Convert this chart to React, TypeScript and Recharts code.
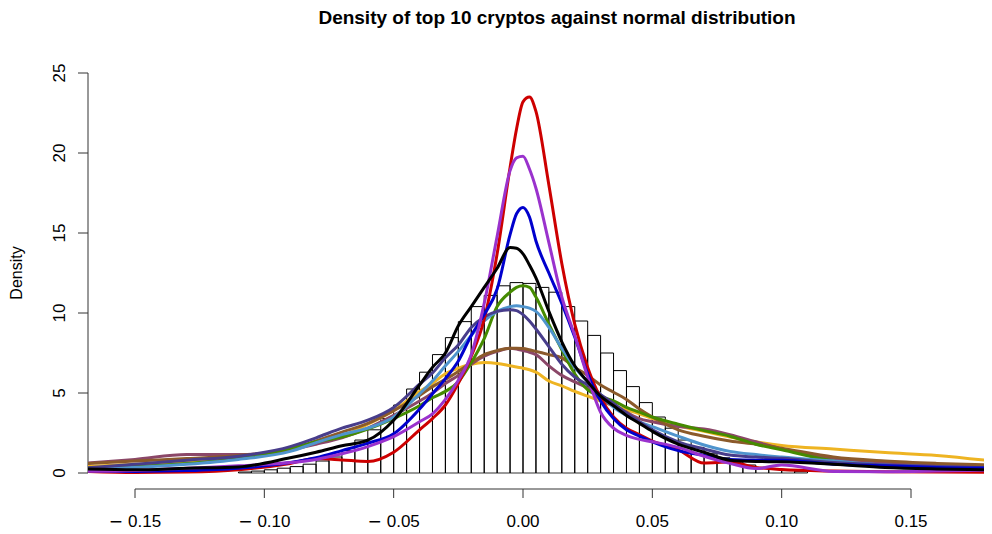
import { ComposedChart, Line, XAxis, YAxis, ReferenceLine } from "recharts";

// density curves are sampled on one shared grid of returns
const xGrid = [
  -0.17, -0.15, -0.13, -0.11, -0.09, -0.08, -0.07, -0.06, -0.05, -0.04, -0.035, -0.03, -0.025,
  -0.02, -0.015, -0.01, -0.005, -0.0025, 0, 0.0025, 0.005, 0.01, 0.015, 0.02, 0.025, 0.03, 0.035,
  0.04, 0.045, 0.05, 0.06, 0.07, 0.08, 0.09, 0.1, 0.12, 0.14, 0.16, 0.185,
];

const red = [
  0.1, 0.03, 0.06, 0.2, 0.6, 0.9, 0.82, 0.72, 1.3, 2.7, 3.4, 4.25, 5.6, 7.3, 9.6, 13.7, 19.1, 21.5,
  23.2, 23.5, 22.6, 18.0, 13.1, 9.3, 6.6, 4.7, 3.5, 2.8, 2.4, 2.0, 1.45, 0.62, 0.68, 0.35, 0.22,
  0.12, 0.08, 0.06, 0.05,
];
const purple = [
  0.1, 0.15, 0.3, 0.45, 0.65, 0.85, 1.2, 1.65, 2.27, 3.2, 3.7, 4.6, 5.8, 7.4, 10.6, 14.8, 18.9,
  19.7, 19.8, 19.0, 17.8, 14.4, 11.0, 8.6, 6.0, 3.8, 2.8, 2.35, 2.1, 1.95, 1.6, 1.05, 0.6, 0.28,
  0.5, 0.1, 0.08, 0.12, 0.2,
];
const blue = [
  0.15, 0.1, 0.15, 0.3, 0.65, 0.95, 1.4, 1.87, 2.45, 4.0, 4.95, 5.9, 7.0, 8.6, 9.9, 11.5, 14.9,
  16.2, 16.6, 16.0, 14.5, 12.5, 10.6, 8.5, 6.2, 4.5, 3.4, 2.7, 2.3, 1.95, 1.4, 1.1, 0.85, 0.8, 0.8,
  0.55, 0.45, 0.35, 0.3,
];
const black = [
  0.25, 0.2, 0.3, 0.38, 0.95, 1.3, 1.7, 2.05, 3.3, 5.5, 6.6, 7.5, 9.2, 10.4, 11.6, 12.8, 14.1,
  14.05, 13.7, 13.0, 12.2, 10.1, 8.2, 6.7, 5.7, 4.8, 4.2, 3.6, 3.1, 2.6, 1.8, 1.3, 0.8, 0.72, 0.7,
  0.55, 0.35, 0.25, 0.18,
];
const green = [
  0.3, 0.4, 0.6, 0.9, 1.55, 1.95, 2.25, 2.75, 3.4, 4.2, 4.7, 5.1, 5.7, 6.9, 8.4, 10.4, 11.3, 11.6,
  11.7, 11.6, 11.0, 9.3, 7.7, 6.2, 5.2, 4.8, 4.5, 4.1, 3.8, 3.5, 3.05, 2.65, 2.3, 1.8, 1.45, 0.75,
  0.45, 0.35, 0.3,
];
const lightBlue = [
  0.25, 0.35, 0.55, 0.85, 1.35, 1.9, 2.4, 2.8, 3.5, 4.95, 5.75, 6.7, 7.6, 8.6, 9.5, 10.1, 10.4,
  10.45, 10.4, 10.3, 10.1, 9.1, 7.8, 6.6, 5.7, 4.9, 4.1, 3.6, 3.2, 2.9, 2.3, 1.75, 1.35, 1.15, 1.0,
  0.75, 0.5, 0.38, 0.3,
];
const slate = [
  0.3, 0.55, 0.8, 1.05, 1.65, 2.2, 2.8, 3.3, 4.1, 5.55, 6.25, 7.2, 8.0, 9.1, 9.75, 10.1, 10.2,
  10.15, 9.9, 9.5, 9.0, 7.9, 6.8, 6.0, 5.5, 4.9, 4.35, 3.75, 3.2, 2.7, 1.95, 1.5, 1.12, 1.0, 0.92,
  0.65, 0.5, 0.4, 0.3,
];
const brown = [
  0.58, 0.75, 0.9, 1.1, 1.45, 2.0, 2.55, 3.1, 3.9, 4.85, 5.4, 5.85, 6.35, 6.9, 7.4, 7.65, 7.8, 7.8,
  7.78, 7.7, 7.6, 7.4, 7.2, 6.6, 6.1, 5.5, 5.05, 4.6, 4.0, 3.5, 2.7, 2.3, 2.0, 1.8, 1.55, 1.0, 0.75,
  0.6, 0.48,
];
const maroon = [
  0.6, 0.85, 1.15, 1.15, 1.45, 1.8, 2.2, 2.8, 3.6, 4.5, 5.0, 5.6, 6.1, 6.8, 7.3, 7.6, 7.8, 7.75,
  7.65, 7.55, 7.4, 6.7, 6.1, 5.7, 5.3, 4.6, 4.2, 3.8, 3.4, 3.2, 2.9, 2.75, 2.4, 1.95, 1.5, 0.92,
  0.65, 0.5, 0.4,
];
const orange = [
  0.4, 0.55, 0.7, 1.0, 1.5, 1.85, 2.3, 3.05, 3.9, 5.1, 5.6, 6.2, 6.55, 6.8, 6.9, 6.85, 6.7, 6.62,
  6.55, 6.45, 6.3, 5.75, 5.45, 5.1, 4.8, 4.5, 4.2, 3.95, 3.7, 3.4, 2.95, 2.6, 2.25, 1.95, 1.72,
  1.5, 1.28, 1.1, 0.68,
];

// histogram of the pooled returns
const histBreaks = [
  -0.11, -0.105, -0.1, -0.095, -0.09, -0.085, -0.08, -0.075, -0.07, -0.065, -0.06, -0.055, -0.05,
  -0.045, -0.04, -0.035, -0.03, -0.025, -0.02, -0.015, -0.01, -0.005, 0, 0.005, 0.01, 0.015, 0.02,
  0.025, 0.03, 0.035, 0.04, 0.045, 0.05, 0.055, 0.06, 0.065, 0.07, 0.075, 0.08, 0.085, 0.09, 0.095,
  0.1, 0.105, 0.11,
];
const histDensity = [
  0.06, 0.12, 0.2, 0.3, 0.4, 0.55, 0.75, 1.0, 1.4, 2.06, 2.7, 3.4, 4.25, 5.25, 6.3, 7.4, 8.46, 9.46,
  10.4, 11.1, 11.7, 11.9, 11.85, 11.6, 11.3, 10.4, 9.5, 8.6, 7.5, 6.4, 5.4, 4.4, 3.5, 2.8, 2.06, 1.6,
  1.2, 0.95, 0.7, 0.5, 0.35, 0.25, 0.15, 0.08,
];

const xTicks = [-0.15, -0.1, -0.05, 0, 0.05, 0.1, 0.15];
const yTicks = [0, 5, 10, 15, 20, 25];

const X_MIN = -0.16817;
const X_MAX = 0.18131;
const FONT = "'Liberation Sans', Arial, Helvetica, sans-serif";

const series = [
  { key: "orange", values: orange, color: "#EEB422" },
  { key: "maroon", values: maroon, color: "#8B4768" },
  { key: "brown", values: brown, color: "#8B5A2B" },
  { key: "green", values: green, color: "#458B00" },
  { key: "lightBlue", values: lightBlue, color: "#4F94CD" },
  { key: "slate", values: slate, color: "#483D8B" },
  { key: "red", values: red, color: "#CD0000" },
  { key: "blue", values: blue, color: "#0000CD" },
  { key: "purple", values: purple, color: "#9A32CD" },
  { key: "black", values: black, color: "#000000" },
];

const curveRows = xGrid.map((x, i) => {
  const row: Record<string, number> = { x };
  series.forEach((s) => (row[s.key] = s.values[i]));
  return row;
});

// each bin as an outlined rectangle: up, across, down
const histRows = histDensity.flatMap((d, i) => [
  { x: histBreaks[i], h: 0 },
  { x: histBreaks[i], h: d },
  { x: histBreaks[i + 1], h: d },
  { x: histBreaks[i + 1], h: 0 },
]);

function XTick({ x, y, payload }: any) {
  const v: number = payload.value;
  const body = Math.abs(v).toFixed(2);
  return (
    <text x={x} y={y} dy="0.71em" textAnchor="middle" fontSize={17} fontFamily={FONT} fill="#000">
      {v < 0 && <tspan fontFamily="'DejaVu Sans', sans-serif">{"\u2212"}</tspan>}
      {v < 0 ? <tspan dx={5}>{body}</tspan> : body}
    </text>
  );
}

function YTick({ x, y, payload }: any) {
  return (
    <text
      x={x}
      y={y}
      transform={`rotate(-90 ${x} ${y})`}
      textAnchor="middle"
      fontSize={17}
      fontFamily={FONT}
      fill="#000"
    >
      {payload.value}
    </text>
  );
}

export default function App() {
  return (
    <div style={{ position: "relative", width: 984, height: 526, background: "#fff" }}>
      <ComposedChart width={984} height={526} data={curveRows} margin={{ top: 49, right: 0, bottom: 0, left: 0 }}>
        <XAxis
          type="number"
          dataKey="x"
          domain={[X_MIN, X_MAX]}
          allowDataOverflow
          ticks={xTicks}
          interval={0}
          height={45}
          axisLine={false}
          tickLine={{ stroke: "#333" }}
          tickSize={9}
          tickMargin={17}
          tick={<XTick />}
        />
        <YAxis
          type="number"
          domain={[-1, 26]}
          allowDataOverflow
          ticks={yTicks}
          interval={0}
          width={80}
          axisLine={false}
          tickLine={{ stroke: "#333" }}
          tickSize={10}
          tickMargin={13}
          tick={<YTick />}
        />
        <ReferenceLine
          segment={[{ x: xTicks[0], y: -1 }, { x: xTicks[xTicks.length - 1], y: -1 }]}
          stroke="#333"
          ifOverflow="visible"
        />
        <ReferenceLine
          segment={[{ x: X_MIN, y: yTicks[0] }, { x: X_MIN, y: yTicks[yTicks.length - 1] }]}
          stroke="#333"
          ifOverflow="visible"
        />
        <ReferenceLine
          segment={[{ x: histBreaks[0], y: 0 }, { x: histBreaks[histBreaks.length - 1], y: 0 }]}
          stroke="#333"
          ifOverflow="visible"
        />
        <Line
          data={histRows}
          dataKey="h"
          type="linear"
          stroke="#000"
          strokeWidth={1}
          dot={false}
          activeDot={false}
          isAnimationActive={false}
        />
        {series.map((s) => (
          <Line
            key={s.key}
            dataKey={s.key}
            type="monotone"
            stroke={s.color}
            strokeWidth={3}
            dot={false}
            activeDot={false}
            isAnimationActive={false}
          />
        ))}
      </ComposedChart>
      <svg width={984} height={526} style={{ position: "absolute", left: 0, top: 0, pointerEvents: "none" }}>
        <text x={549} y={16} textAnchor="middle" fontSize={19} fontWeight="bold" fontFamily={FONT} fill="#000">
          Density of top 10 cryptos against normal distribution
        </text>
        <text transform="translate(14 265) rotate(-90)" textAnchor="middle" fontSize={16} fontFamily={FONT} fill="#000">
          Density
        </text>
      </svg>
    </div>
  );
}
